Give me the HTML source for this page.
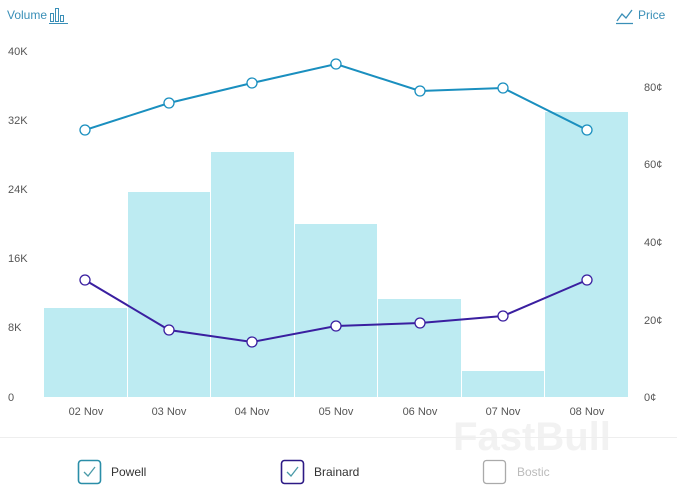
<!DOCTYPE html>
<html><head><meta charset="utf-8"><style>
body{margin:0;background:#fff;}
svg{display:block;font-family:"Liberation Sans",sans-serif;}
</style></head><body>
<svg width="677" height="493" viewBox="0 0 677 493">
<rect width="677" height="493" fill="#fff"/>
<text x="7" y="19" font-size="12" fill="#3a8fb7">Volume</text>
<g fill="none" stroke="#3a8fb7" stroke-width="1"><rect x="50.5" y="13.5" width="3" height="8"/><rect x="55.5" y="8.5" width="3" height="13"/><rect x="60.5" y="15.5" width="3" height="6"/><line x1="49" y1="23.5" x2="68" y2="23.5"/></g>
<g fill="none" stroke="#3a8fb7" stroke-width="1.3"><polyline points="617,21 622,14 626,18 632,10"/><line x1="616" y1="23.5" x2="633" y2="23.5"/></g>
<text x="638" y="19" font-size="12" fill="#3a8fb7">Price</text>
<g font-size="11" fill="#555">
<text x="8" y="55">40K</text><text x="8" y="124">32K</text><text x="8" y="193">24K</text><text x="8" y="262">16K</text><text x="8" y="331">8K</text><text x="8" y="401">0</text>
<text x="644" y="91">80¢</text><text x="644" y="168">60¢</text><text x="644" y="246">40¢</text><text x="644" y="324">20¢</text><text x="644" y="401">0¢</text>
</g>
<g fill="#bdebf2">
<rect x="44" y="308" width="83" height="89"/><rect x="128" y="192" width="82" height="205"/><rect x="211" y="152" width="83" height="245"/><rect x="295" y="224" width="82" height="173"/><rect x="378" y="299" width="83" height="98"/><rect x="462" y="371" width="82" height="26"/><rect x="545" y="112" width="83" height="285"/>
</g>
<g font-size="11" fill="#555" text-anchor="middle">
<text x="86" y="415">02 Nov</text><text x="169" y="415">03 Nov</text><text x="252" y="415">04 Nov</text><text x="336" y="415">05 Nov</text><text x="420" y="415">06 Nov</text><text x="503" y="415">07 Nov</text><text x="587" y="415">08 Nov</text>
</g>
<text x="532" y="450" font-size="40" font-weight="bold" fill="#f2f2f2" text-anchor="middle">FastBull</text>
<polyline fill="none" stroke="#1a8fbf" stroke-width="2" points="85,130 169,103 252,83 336,64 420,91 503,88 587,130"/>
<g fill="#fff" stroke="#1a8fbf" stroke-width="1.3">
<circle cx="85" cy="130" r="5"/><circle cx="169" cy="103" r="5"/><circle cx="252" cy="83" r="5"/><circle cx="336" cy="64" r="5"/><circle cx="420" cy="91" r="5"/><circle cx="503" cy="88" r="5"/><circle cx="587" cy="130" r="5"/></g>
<polyline fill="none" stroke="#3a1fa0" stroke-width="2" points="85,280 169,330 252,342 336,326 420,323 503,316 587,280"/>
<g fill="#fff" stroke="#3a1fa0" stroke-width="1.3">
<circle cx="85" cy="280" r="5"/><circle cx="169" cy="330" r="5"/><circle cx="252" cy="342" r="5"/><circle cx="336" cy="326" r="5"/><circle cx="420" cy="323" r="5"/><circle cx="503" cy="316" r="5"/><circle cx="587" cy="280" r="5"/></g>
<line x1="0" y1="437.5" x2="677" y2="437.5" stroke="#eee"/>
<rect x="78.5" y="460.5" width="22" height="23" rx="3" fill="none" stroke="#2a8ea8" stroke-width="1.6"/>
<polyline points="84,472 88,476 95,467" fill="none" stroke="#4a9aa8" stroke-width="1.3"/>
<text x="111" y="476" font-size="12" fill="#333">Powell</text>
<rect x="281.5" y="460.5" width="22" height="23" rx="3" fill="none" stroke="#2d1a85" stroke-width="1.6"/>
<polyline points="287,472 291,476 298,467" fill="none" stroke="#4a9aa8" stroke-width="1.3"/>
<text x="314" y="476" font-size="12" fill="#333">Brainard</text>
<rect x="483.5" y="460.5" width="22" height="23" rx="3" fill="none" stroke="#aaa" stroke-width="1.3"/>
<text x="517" y="476" font-size="12" fill="#bbb">Bostic</text>
</svg>
</body></html>
